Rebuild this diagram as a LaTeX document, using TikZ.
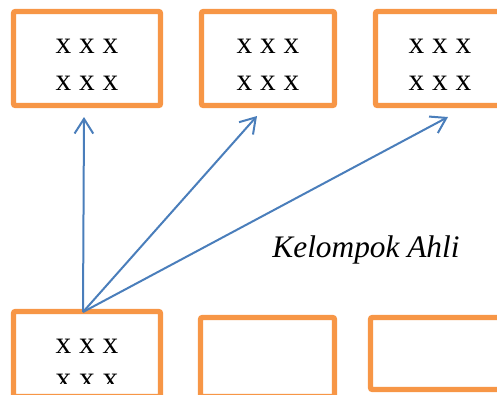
\documentclass[tikz,border=0pt]{standalone}
\usepackage{fontspec}
\setmainfont{Liberation Serif}[
  ItalicFont={Liberation Serif Italic},
  BoldFont={Liberation Serif Bold}]
\usetikzlibrary{arrows.meta}
\definecolor{boxorange}{HTML}{F79646}
\definecolor{arrowblue}{HTML}{4A7EBB}
\tikzset{
  groupbox/.style={draw=boxorange, line width=4pt, rounded corners=1.5pt, fill=white},
  member/.style={font=\fontsize{23.5pt}{28pt}\selectfont, anchor=base, inner sep=0pt},
  link/.style={draw=arrowblue, line width=1.5pt,
    -{Straight Barb[length=11pt,width=14pt,line width=1.5pt]}},
  caption/.style={font=\fontsize{23.5pt}{28pt}\selectfont\itshape, anchor=base, inner sep=0pt}
}
\begin{document}
\begin{tikzpicture}[x=0.75pt, y=-0.75pt]
  \useasboundingbox (0,0) rectangle (497,394);
  % upper row: expert groups
  \draw[groupbox] (13.5,11.5) rectangle (160.5,105.5) coordinate (e1);
  \draw[groupbox] (201.5,11.5) rectangle (334.5,105.5) coordinate (e2);
  \draw[groupbox] (375.5,11.5) rectangle (520,105.5) coordinate (e3);
  \node[member] (t1a) at (87,53) {x x x};
  \node[member] (t1b) at (87,90) {x x x};
  \node[member] (t2a) at (268,53) {x x x};
  \node[member] (t2b) at (268,90) {x x x};
  \node[member] (t3a) at (440,53) {x x x};
  \node[member] (t3b) at (440,90) {x x x};
  % lower row: home groups
  \draw[groupbox] (13.5,311.5) rectangle (160.5,396.5) coordinate (h1);
  \draw[groupbox] (200.5,317.5) rectangle (334.5,396.5) coordinate (h2);
  \draw[groupbox] (370.5,317.5) rectangle (520,389.5) coordinate (h3);
  \node[member] (t4a) at (87,353) {x x x};
  \begin{scope}
    % the second line overflows the box and is cut at its inner edge
    \clip (16,300) rectangle (158,383);
    \node[member] (t4b) at (87,388) {x x x};
  \end{scope}
  % arrows from one member to each expert group
  \coordinate (src) at (83,312);
  \coordinate (d1) at (84,117);
  \coordinate (d2) at (257,116);
  \coordinate (d3) at (448,117);
  \draw[link] (src) -- (d1);
  \draw[link] (src) -- (d2);
  \draw[link] (src) -- (d3);
  \node[caption] (lbl) at (366,257) {Kelompok Ahli};
\end{tikzpicture}
\end{document}
